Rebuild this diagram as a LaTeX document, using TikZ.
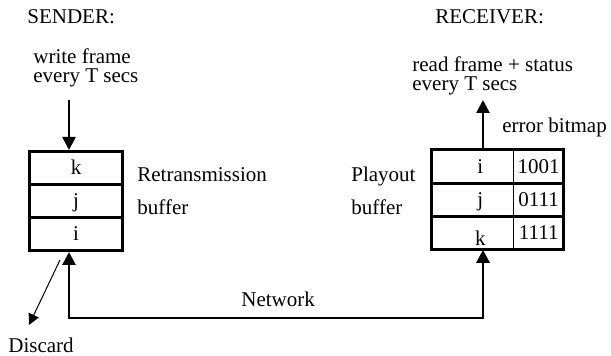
\documentclass[tikz,border=0pt]{standalone}
\usepackage{fontspec}
\setmainfont{Liberation Serif}
\usetikzlibrary{arrows.meta,positioning}

\begin{document}
\begin{tikzpicture}[x=0.5pt, y=-0.5pt,
  every node/.style={font=\fontsize{10.5}{9.6}\selectfont, inner sep=0pt},
  cellbox/.style={minimum height=16.5pt, anchor=north west, text height=7pt, text depth=0pt},
  slot/.style={cellbox, draw, line width=1.5pt, minimum width=46.5pt},
  rslot/.style={cellbox, minimum width=41pt},
  bits/.style={cellbox, minimum width=24.5pt},
  frame/.style={line width=1.5pt},
  lbl/.style={anchor=base west},
  flow/.style={-{Triangle[length=6.5pt, width=6.5pt]}, line width=1.3pt},
  link/.style={{Triangle[length=6.5pt, width=6.5pt]}-{Triangle[length=6.5pt, width=6.5pt]}, line width=1.3pt},
  drop/.style={-{Triangle[length=5.5pt, width=5.5pt]}, line width=0.5pt}
]
  \useasboundingbox (0,0) rectangle (611,356);

  % sender side
  \node[lbl] (sndhead) at (27,24) {SENDER:};
  \node[lbl] (write) at (33,64) {write frame};
  \node[lbl] (writeb) at (33,83) {every T secs};
  \node[slot] (s1) at (28,150) {k};
  \node[slot] (s2) at (28,183) {j};
  \node[slot] (s3) at (28,216) {i};
  \node[lbl] (retx) at (137,182) {Retransmission};
  \node[lbl] (retxb) at (137,215) {buffer};

  % receiver side
  \node[lbl] (rcvhead) at (435,24) {RECEIVER:};
  \node[lbl] (read) at (412,72) {read frame + status};
  \node[lbl] (readb) at (412,91) {every T secs};
  \node[lbl] (ebits) at (502,133) {error bitmap};
  \node[rslot] (r1) at (431,150) {\hspace{8pt}i};
  \node[rslot] (r2) at (431,183) {\hspace{8pt}j};
  \node[rslot, text height=13pt] (r3) at (431,216) {\hspace{8pt}k};
  \node[bits] (b1) at (r1.north east) {1001};
  \node[bits] (b2) at (r2.north east) {0111};
  \node[bits] (b3) at (r3.north east) {1111};
  \draw[line width=0.5pt] (b1.north west) -- (b3.south west);
  \draw[frame] (r1.north west) rectangle (b3.south east)
    (r1.south west) -- (b1.south east) (r2.south west) -- (b2.south east);
  \node[lbl] (play) at (351,182) {Playout};
  \node[lbl] (playb) at (351,215) {buffer};

  % connectors
  \coordinate (wtop) at (69,100);
  \coordinate (rtop) at (483,100);
  \coordinate (net) at (69,318);
  \coordinate (dfrom) at (60,260);
  \coordinate (dto) at (29,325);
  \draw[flow] (wtop) -- (wtop |- s1.north);
  \draw[flow] (rtop |- r1.north) -- (rtop);
  \draw[link] (rtop |- r3.south) |- (net) -- (net |- s3.south);
  \node[lbl] (netlbl) at (241,307) {Network};
  \draw[drop] (dfrom) -- (dto);
  \node[lbl] (disc) at (8,353) {Discard};
\end{tikzpicture}
\end{document}
